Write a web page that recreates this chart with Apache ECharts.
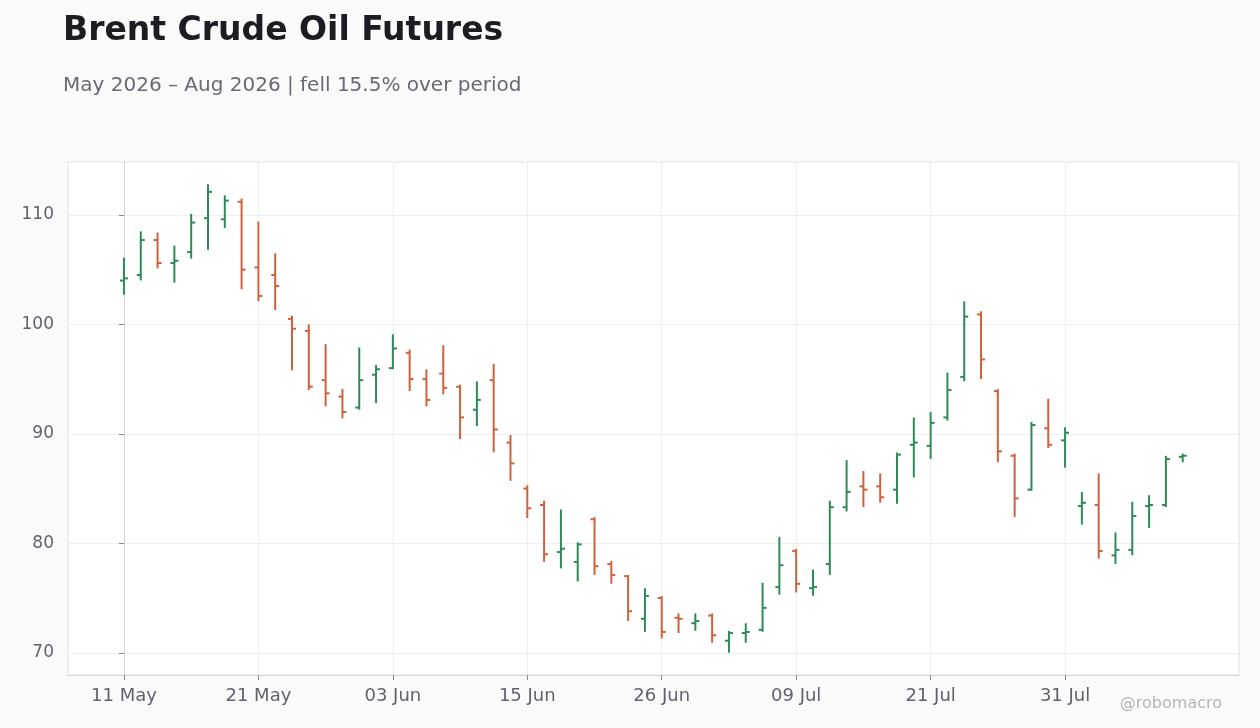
<!DOCTYPE html>
<html><head><meta charset="utf-8">
<script src="https://cdn.jsdelivr.net/npm/echarts@6/dist/echarts.min.js"></script>
<style>html,body{margin:0;padding:0;background:#fafafa;}#c{width:1260px;height:728px;}</style>
</head><body><div id="c"></div>
<script>
const dates = ['11 May','12 May','13 May','14 May','15 May','18 May','19 May','20 May','21 May','22 May',
  '26 May','27 May','28 May','29 May','01 Jun','02 Jun','03 Jun','04 Jun','05 Jun','08 Jun',
  '09 Jun','10 Jun','11 Jun','12 Jun','15 Jun','16 Jun','17 Jun','18 Jun','22 Jun','23 Jun',
  '24 Jun','25 Jun','26 Jun','29 Jun','30 Jun','01 Jul','02 Jul','06 Jul','07 Jul','08 Jul',
  '09 Jul','10 Jul','13 Jul','14 Jul','15 Jul','16 Jul','17 Jul','20 Jul','21 Jul','22 Jul',
  '23 Jul','24 Jul','27 Jul','28 Jul','29 Jul','30 Jul','31 Jul','03 Aug','04 Aug','05 Aug',
  '06 Aug','07 Aug','10 Aug','11 Aug'];
const opens = [104.0,104.5,107.7,105.6,106.6,109.7,109.6,111.2,105.2,104.5,
  100.5,99.4,94.9,93.4,92.4,95.4,96.0,97.4,95.0,95.5,
  94.3,92.2,94.9,89.2,85.0,83.5,79.2,78.3,82.2,78.1,
  77.0,73.1,75.0,73.2,72.7,73.4,71.1,71.8,72.1,76.0,
  79.3,75.9,78.1,83.3,85.2,85.2,84.9,89.0,88.9,91.5,
  95.2,100.9,93.9,88.0,84.9,90.5,89.4,83.4,83.5,78.9,
  79.4,83.4,83.5,87.9];
const highs = [106.0,108.4,108.3,107.1,110.0,112.7,111.7,111.4,109.3,106.4,
  100.7,99.9,98.1,94.0,97.8,96.2,99.0,97.6,95.8,98.0,
  94.4,94.7,96.3,89.8,85.2,83.8,83.0,80.0,82.3,78.3,
  77.0,75.8,75.1,73.5,73.5,73.5,71.9,72.6,76.3,80.5,
  79.4,77.5,83.8,87.5,86.5,86.3,88.2,91.4,91.9,95.5,
  102.0,101.1,94.0,88.1,91.0,93.1,90.5,84.6,86.3,80.9,
  83.7,84.3,87.9,88.1];
const lows = [102.8,104.1,105.2,103.9,106.1,106.9,108.9,103.3,102.2,101.4,
  95.9,94.1,92.6,91.5,92.3,92.9,96.0,94.0,92.6,93.7,
  89.6,90.8,88.4,85.8,82.4,78.4,77.8,76.6,77.2,76.4,
  73.0,72.0,71.4,71.9,72.1,71.0,70.1,71.0,72.0,75.4,
  75.6,75.3,77.2,83.0,83.4,83.8,83.7,86.1,87.8,91.3,
  94.9,95.1,87.5,82.5,84.9,88.8,87.0,81.8,78.7,78.2,
  79.0,81.5,83.4,87.5];
const closes = [104.2,107.7,105.6,105.8,109.3,112.1,111.3,105.0,102.6,103.5,
  99.6,94.3,93.7,92.0,94.9,95.9,97.8,95.0,93.1,94.2,
  91.5,93.1,90.4,87.3,83.2,79.0,79.5,79.9,77.9,77.1,
  73.8,75.2,71.9,73.1,72.9,71.6,71.8,71.9,74.1,78.0,
  76.3,76.0,83.3,84.7,84.9,84.2,88.1,89.2,91.0,94.0,
  100.7,96.8,88.4,84.1,90.8,89.0,90.1,83.7,79.3,79.4,
  82.5,83.5,87.7,88.0];
const xTickIdx = [0,8,16,24,32,40,48,56];
const yTicks = [70,80,90,100,110];

const UP = '#2e8b57', DOWN = '#d1603d';
const lo = Math.min(...lows), hi = Math.max(...highs);
const pad = (hi - lo) * 0.05;
const ohlc = dates.map((d, i) => [i, opens[i], highs[i], lows[i], closes[i]]);

const chart = echarts.init(document.getElementById('c'));
const FONT = 'DejaVu Sans';
chart.setOption({
  backgroundColor: '#fafafa',
  animation: false,
  title: [{
    text: 'Brent Crude Oil Futures', left: 58, top: 10,
    textStyle: {fontFamily: FONT, fontSize: 33, fontWeight: 'bold', color: '#1c1c22'}
  }, {
    text: 'May 2026 – Aug 2026 | fell 15.5% over period', left: 58, top: 71,
    textStyle: {fontFamily: FONT, fontSize: 20, fontWeight: 'normal', color: '#676a74'}
  }],
  graphic: [{
    type: 'text', right: 38, top: 696,
    style: {text: '@robomacro', font: '16px "DejaVu Sans"', fill: '#b5b5b8'}
  }],
  grid: {left: 68, right: 21, top: 162, bottom: 53, show: true,
    backgroundColor: '#ffffff', borderColor: '#e2e2e4', borderWidth: 1},
  xAxis: {
    type: 'value', min: -3.33, max: 66.35,
    axisLine: {show: true, lineStyle: {color: '#d6d6da'}},
    axisTick: {show: true, customValues: xTickIdx, length: 5, lineStyle: {color: '#888'}},
    axisLabel: {customValues: xTickIdx, formatter: v => dates[v] || '', margin: 12,
      fontFamily: FONT, fontSize: 18, color: '#60636e'},
    splitLine: {show: true, lineStyle: {color: '#efefef'}}
  },
  yAxis: {
    type: 'value', min: lo - pad, max: hi + pad, scale: true,
    axisLine: {show: true, lineStyle: {color: '#d6d6da'}},
    axisTick: {show: true, customValues: yTicks, length: 5, lineStyle: {color: '#888'}},
    axisLabel: {customValues: yTicks, margin: 14,
      fontFamily: FONT, fontSize: 17, color: '#60636e'},
    splitLine: {show: true, lineStyle: {color: '#efefef'}}
  },
  series: [{
    type: 'custom',
    data: ohlc,
    encode: {x: 0, y: [1, 2, 3, 4]},
    renderItem: function (params, api) {
      const x = api.value(0);
      const o = api.coord([x, api.value(1)]);
      const h = api.coord([x, api.value(2)]);
      const l = api.coord([x, api.value(3)]);
      const c = api.coord([x, api.value(4)]);
      const color = api.value(4) >= api.value(1) ? UP : DOWN;
      const style = {stroke: color, lineWidth: 2, fill: null};
      return {type: 'group', children: [
        {type: 'line', shape: {x1: h[0], y1: h[1] - 1, x2: l[0], y2: l[1] + 1}, style: style},
        {type: 'line', shape: {x1: o[0] - 4, y1: o[1], x2: o[0], y2: o[1]}, style: style},
        {type: 'line', shape: {x1: c[0], y1: c[1], x2: c[0] + 4, y2: c[1]}, style: style}
      ]};
    }
  }]
});
</script></body></html>
